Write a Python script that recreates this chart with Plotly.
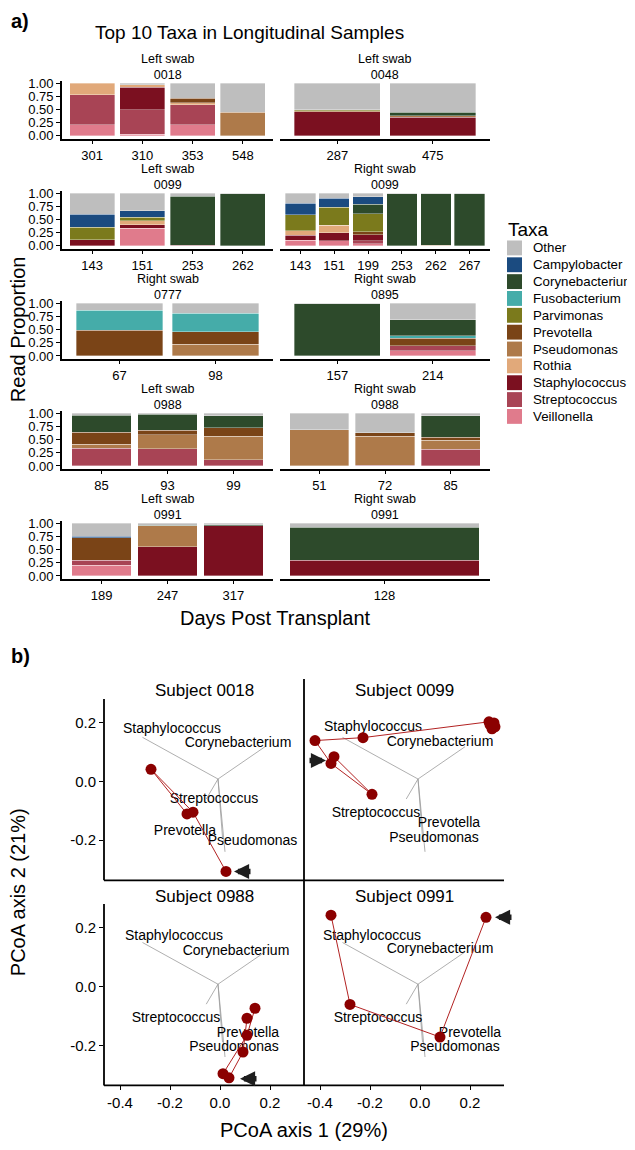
import plotly.graph_objects as go

# the page puts the figure 8 px in from the top-left corner
OFF = 8
W, H = 627, 1134
FONT = "Liberation Sans, Arial, Helvetica, sans-serif"

# -- Panel a data -------------------------------------------------------------

TAXA = ["Other", "Campylobacter", "Corynebacterium", "Fusobacterium", "Parvimonas",
        "Prevotella", "Pseudomonas", "Rothia", "Staphylococcus", "Streptococcus",
        "Veillonella"]
TAXA_COLORS = ["#BEBEBE", "#1B4B80", "#2D4A2B", "#45ACA9", "#7B7A1C",
               "#7A4417", "#AE7A4A", "#E1A97A", "#7B1020", "#A84455", "#E07B8C"]

STRIPS = [("Left swab", "0018"), ("Left swab", "0048"),
          ("Left swab", "0099"), ("Right swab", "0099"),
          ("Right swab", "0777"), ("Right swab", "0895"),
          ("Left swab", "0988"), ("Right swab", "0988"),
          ("Left swab", "0991"), ("Right swab", "0991")]

DAYS_L0018 = ["301", "310", "353", "548"]
L0018 = {"Veillonella": [0.21, 0.03, 0.21, 0], "Streptococcus": [0.57, 0.47, 0.38, 0],
         "Staphylococcus": [0, 0.43, 0, 0], "Rothia": [0.22, 0.04, 0.04, 0],
         "Pseudomonas": [0, 0, 0, 0.45], "Prevotella": [0, 0, 0.085, 0],
         "Other": [0, 0.03, 0.285, 0.55]}

DAYS_L0048 = ["287", "475"]
L0048 = {"Staphylococcus": [0.46, 0.355], "Pseudomonas": [0.02, 0.03],
         "Parvimonas": [0.02, 0], "Corynebacterium": [0, 0.065], "Other": [0.50, 0.55]}

DAYS_L0099 = ["143", "151", "253", "262"]
L0099 = {"Veillonella": [0, 0.34, 0, 0], "Staphylococcus": [0.115, 0.065, 0.015, 0],
         "Rothia": [0, 0.075, 0, 0], "Parvimonas": [0.24, 0.07, 0, 0],
         "Corynebacterium": [0, 0, 0.935, 0.99], "Campylobacter": [0.245, 0.115, 0, 0],
         "Other": [0.40, 0.335, 0.05, 0.01]}

DAYS_R0099 = ["143", "151", "199", "253", "262", "267"]
R0099 = {"Veillonella": [0.11, 0.10, 0.04, 0, 0, 0], "Streptococcus": [0, 0, 0.06, 0, 0, 0],
         "Staphylococcus": [0.09, 0.15, 0.11, 0.005, 0, 0], "Rothia": [0.09, 0.14, 0, 0, 0, 0],
         "Pseudomonas": [0, 0, 0, 0, 0.015, 0], "Prevotella": [0, 0, 0.06, 0, 0, 0],
         "Parvimonas": [0.30, 0.35, 0.34, 0, 0, 0],
         "Corynebacterium": [0, 0, 0.18, 0.985, 0.975, 0.995],
         "Campylobacter": [0.22, 0.165, 0.15, 0, 0, 0],
         "Other": [0.19, 0.095, 0.06, 0.01, 0.01, 0.005]}

DAYS_R0777 = ["67", "98"]
R0777 = {"Pseudomonas": [0, 0.225], "Prevotella": [0.49, 0.235],
         "Fusobacterium": [0.38, 0.35], "Other": [0.13, 0.19]}

DAYS_R0895 = ["157", "214"]
R0895 = {"Veillonella": [0, 0.095], "Streptococcus": [0, 0.10], "Prevotella": [0, 0.14],
         "Fusobacterium": [0, 0.045], "Corynebacterium": [0.99, 0.31], "Other": [0.01, 0.31]}

DAYS_L0988 = ["85", "93", "99"]
L0988 = {"Streptococcus": [0.335, 0.33, 0.115], "Pseudomonas": [0.08, 0.26, 0.455],
         "Prevotella": [0.23, 0.09, 0.16], "Corynebacterium": [0.32, 0.30, 0.23],
         "Other": [0.035, 0.02, 0.04]}

DAYS_R0988 = ["51", "72", "85"]
R0988 = {"Streptococcus": [0, 0, 0.315], "Staphylococcus": [0, 0.01, 0],
         "Pseudomonas": [0.685, 0.56, 0.175], "Prevotella": [0, 0.06, 0.06],
         "Corynebacterium": [0, 0, 0.41], "Other": [0.315, 0.37, 0.04]}

DAYS_L0991 = ["189", "247", "317"]
L0991 = {"Veillonella": [0.20, 0, 0], "Streptococcus": [0.10, 0, 0],
         "Staphylococcus": [0, 0.56, 0.96], "Pseudomonas": [0, 0.395, 0],
         "Prevotella": [0.43, 0, 0], "Corynebacterium": [0, 0.015, 0.02],
         "Campylobacter": [0.03, 0, 0], "Other": [0.24, 0.03, 0.02]}

DAYS_R0991 = ["128"]
R0991 = {"Staphylococcus": [0.30], "Corynebacterium": [0.63], "Other": [0.07]}

BAR_PANELS = [(DAYS_L0018, L0018), (DAYS_L0048, L0048), (DAYS_L0099, L0099),
              (DAYS_R0099, R0099), (DAYS_R0777, R0777), (DAYS_R0895, R0895),
              (DAYS_L0988, L0988), (DAYS_R0988, R0988), (DAYS_L0991, L0991),
              (DAYS_R0991, R0991)]

# -- Panel b data -------------------------------------------------------------

SUBJECTS = ["Subject 0018", "Subject 0099", "Subject 0988", "Subject 0991"]

# sample ordination scores, in the order the path is drawn
S0018_X = [0.024, -0.108, -0.276, -0.132]
S0018_Y = [-0.307, -0.105, 0.041, -0.111]
S0099_X = [0.276, 0.30, 0.288, 0.28, 0.296, -0.228, -0.42, -0.356, -0.192, -0.344]
S0099_Y = [0.203, 0.186, 0.179, 0.193, 0.199, 0.149, 0.139, 0.061, -0.044, 0.084]
S0099_PATH = [0, 5, 6, 7, 8, 9]
S0988_X = [0.036, 0.092, 0.108, 0.012, 0.108, 0.14]
S0988_Y = [-0.311, -0.223, -0.108, -0.297, -0.166, -0.074]
S0988_PATHS = [[0, 1, 2], [3, 4, 5]]
S0991_X = [0.264, 0.08, -0.28, -0.356]
S0991_Y = [0.236, -0.172, -0.061, 0.243]

# first-sample markers (arrow head position and direction)
ARROW_X = [0.056, -0.376, 0.08, 0.30]
ARROW_Y = [-0.307, 0.071, -0.314, 0.236]
ARROW_DIR = [1, -1, 1, 1]

# taxa loadings drawn from a common origin
VEC_NAMES = ["Staphylococcus", "Corynebacterium", "Streptococcus", "Prevotella", "Pseudomonas"]
VEC_ORIGIN = (-0.008, 0.008)
VEC_X = [-0.31, 0.18, -0.055, 0.01, 0.02]
VEC_Y = [0.15, 0.118, -0.06, -0.19, -0.24]

# label positions in each subject panel
LAB_X = [[-0.192, 0.072, -0.024, -0.14, 0.13],
         [-0.188, 0.08, -0.176, 0.116, 0.056],
         [-0.184, 0.064, -0.176, 0.112, 0.056],
         [-0.192, 0.08, -0.168, 0.20, 0.14]]
LAB_Y = [[0.176, 0.128, -0.061, -0.172, -0.206],
         [0.184, 0.133, -0.111, -0.145, -0.196],
         [0.169, 0.118, -0.108, -0.159, -0.206],
         [0.171, 0.126, -0.108, -0.159, -0.206]]

PC_TICKS_X = [-0.4, -0.2, 0.0, 0.2]
PC_TICKS_Y = [-0.2, 0.0, 0.2]


def fx(px):
    """Page pixel x -> paper fraction."""
    return (px - OFF) / W


def fy(py):
    """Page pixel y -> paper fraction."""
    return 1 - (py - OFF) / H


def note(text, x, y, size, **kw):
    d = dict(text=text, x=fx(x), y=fy(y), xref="paper", yref="paper", showarrow=False,
             xanchor="center", yanchor="middle",
             font=dict(family=FONT, size=size, color="black"))
    d.update(kw)
    return d


fig = go.Figure()
axes = {}
annotations = []
shapes = []

# -- Panel a: stacked bars ----------------------------------------------------

COL_X = [(62, 273), (280, 490)]
for i, (days, comp) in enumerate(BAR_PANELS):
    n = i + 1
    row, col = divmod(i, 2)
    x0, x1 = COL_X[col]
    zero = 132 + 111 * row
    top, bottom = zero - 55.65, zero + 2.65
    pos = list(range(1, len(days) + 1))
    for taxon, color in reversed(list(zip(TAXA, TAXA_COLORS))):
        vals = comp.get(taxon)
        if vals is None:
            continue
        fig.add_trace(go.Bar(
            x=pos, y=[v if v > 0 else None for v in vals], width=0.9,
            marker=dict(color=color, line=dict(color="rgba(255,255,255,0.7)", width=0.5)),
            xaxis=f"x{n}", yaxis=f"y{n}", showlegend=False, name=taxon,
        ))
    xrange = [0.4, len(days) + 0.6] if len(days) > 1 else [0.505, 1.5]
    axes[f"xaxis{n}"] = dict(
        domain=[fx(x0), fx(x1)], anchor=f"y{n}", range=xrange,
        tickvals=pos, ticktext=days, ticks="outside", ticklen=4, tickwidth=1.2,
        tickcolor="black", showline=True, linewidth=1.6, linecolor="black",
        showgrid=False, zeroline=False, tickfont=dict(family=FONT, size=13, color="black"),
    )
    axes[f"yaxis{n}"] = dict(
        domain=[fy(bottom), fy(top)], anchor=f"x{n}", range=[-0.05, 1.05],
        showgrid=False, zeroline=False,
    )
    if col == 0:
        axes[f"yaxis{n}"].update(
            tickvals=[0, 0.25, 0.5, 0.75, 1.0],
            ticktext=["0.00", "0.25", "0.50", "0.75", "1.00"],
            ticks="outside", ticklen=4, tickwidth=1.2, tickcolor="black",
            showline=True, linewidth=1.6, linecolor="black",
            tickfont=dict(family=FONT, size=13, color="black"),
        )
    else:
        axes[f"yaxis{n}"].update(visible=False)
    annotations.append(note(f"{STRIPS[i][0]}<br>{STRIPS[i][1]}", (x0 + x1) / 2,
                            62 + 111 * row, 12.5))

annotations.append(note("<b>a)</b>", 9, 16, 20, xanchor="left"))
annotations.append(note("Top 10 Taxa in Longitudinal Samples", 93, 28, 19, xanchor="left"))
annotations.append(note("Read Proportion", 18, 327, 20, textangle=-90))
annotations.append(note("Days Post Transplant", 275, 618, 20))

# legend
annotations.append(note("Taxa", 506, 226, 19, xanchor="left"))
for k, (taxon, color) in enumerate(zip(TAXA, TAXA_COLORS)):
    yc = 245 + 17 * k
    shapes.append(dict(type="rect", xref="paper", yref="paper", x0=fx(507), x1=fx(522),
                       y0=fy(yc + 7.5), y1=fy(yc - 7.5), fillcolor=color, line=dict(width=0)))
    annotations.append(note(taxon, 531, yc, 13.3, xanchor="left"))

# -- Panel b: PCoA biplots ----------------------------------------------------

XR = [-0.464, 0.336]
YR = [-0.337, 0.281]
PB_X = [(104, 304), (304, 504), (104, 304), (304, 504)]
PB_Y = [(700, 883), (700, 883), (907, 1090), (907, 1090)]

POINTS = [(S0018_X, S0018_Y, [[0, 1, 2, 3]]),
          (S0099_X, S0099_Y, [S0099_PATH]),
          (S0988_X, S0988_Y, S0988_PATHS),
          (S0991_X, S0991_Y, [[0, 1, 2, 3]])]

for j in range(4):
    n = 11 + j
    xa, ya = f"x{n}", f"y{n}"
    (px0, px1), (py0, py1) = PB_X[j], PB_Y[j]
    axes[f"xaxis{n}"] = dict(domain=[fx(px0), fx(px1)], anchor=ya, range=XR,
                             showgrid=False, zeroline=False, showline=False,
                             showticklabels=False)
    axes[f"yaxis{n}"] = dict(domain=[fy(py1), fy(py0)], anchor=xa, range=YR,
                             showgrid=False, zeroline=False, showline=False,
                             showticklabels=False)
    if j >= 2:
        axes[f"xaxis{n}"].update(
            showticklabels=True, tickvals=PC_TICKS_X,
            ticktext=[f"{v:.1f}" for v in PC_TICKS_X], ticks="outside", ticklen=4,
            tickwidth=1.2, tickcolor="black",
            tickfont=dict(family=FONT, size=15, color="black"))
    if j % 2 == 0:
        axes[f"yaxis{n}"].update(
            showticklabels=True, tickvals=PC_TICKS_Y,
            ticktext=[f"{v:.1f}" for v in PC_TICKS_Y], ticks="outside", ticklen=4,
            tickwidth=1.2, tickcolor="black",
            tickfont=dict(family=FONT, size=15, color="black"))

    # loading vectors
    vx, vy = [], []
    for ex, ey in zip(VEC_X, VEC_Y):
        vx += [VEC_ORIGIN[0], ex, None]
        vy += [VEC_ORIGIN[1], ey, None]
    fig.add_trace(go.Scatter(x=vx, y=vy, mode="lines", xaxis=xa, yaxis=ya,
                             line=dict(color="#9A9A9A", width=0.8), showlegend=False))
    fig.add_trace(go.Scatter(x=LAB_X[j], y=LAB_Y[j], text=VEC_NAMES, mode="text",
                             xaxis=xa, yaxis=ya, showlegend=False,
                             textfont=dict(family=FONT, size=14, color="black")))
    sx, sy, paths = POINTS[j]
    for path in paths:
        fig.add_trace(go.Scatter(x=[sx[k] for k in path], y=[sy[k] for k in path],
                                 mode="lines", xaxis=xa, yaxis=ya, showlegend=False,
                                 line=dict(color="#B22222", width=1)))
    fig.add_trace(go.Scatter(x=sx, y=sy, mode="markers", xaxis=xa, yaxis=ya,
                             showlegend=False, marker=dict(color="#8B0000", size=11)))
    annotations.append(dict(x=ARROW_X[j], y=ARROW_Y[j], xref=xa, yref=ya, text="",
                            showarrow=True, ax=18 * ARROW_DIR[j], ay=0, arrowhead=2,
                            arrowsize=0.55, arrowwidth=5.5, arrowcolor="#1E1E1E",
                            standoff=0))
    annotations.append(note(SUBJECTS[j], (px0 + px1) / 2, py0 - 8, 17))

LINE = dict(color="black", width=1.8)
for x0, y0, x1, y1 in [(104, 700, 104, 883), (104, 907, 104, 1090), (304, 680, 304, 1090),
                       (104, 883, 504, 883), (104, 1090, 504, 1090)]:
    shapes.append(dict(type="line", xref="paper", yref="paper", x0=fx(x0), y0=fy(y0),
                       x1=fx(x1), y1=fy(y1), line=LINE))

annotations.append(note("<b>b)</b>", 9, 657, 20, xanchor="left"))
annotations.append(note("PCoA axis 1 (29%)", 304, 1135, 20))
annotations.append(note("PCoA axis 2 (21%)", 18, 895, 20, textangle=-90))

fig.update_layout(
    width=W, height=H, margin=dict(l=0, r=0, t=0, b=0),
    paper_bgcolor="white", plot_bgcolor="white", barmode="stack",
    showlegend=False, annotations=annotations, shapes=shapes,
    font=dict(family=FONT, color="black"), **axes,
)

fig.write_html("out.html")
